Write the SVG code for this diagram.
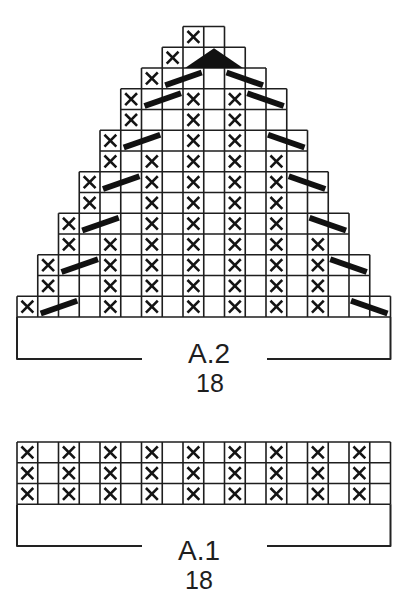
<svg xmlns="http://www.w3.org/2000/svg" xmlns:xlink="http://www.w3.org/1999/xlink" width="412" height="600" viewBox="0 0 412 600">
<style>
.grid{fill:none;stroke:#1e1e1e;stroke-width:1.6}
.xm{fill:none;stroke:#141414;stroke-width:2.6;stroke-linecap:square}
.sl{stroke:#111;stroke-width:6;stroke-linecap:butt}
.br{fill:none;stroke:#222;stroke-width:2;stroke-linejoin:round}
.lbl{font-family:"Liberation Sans",Arial,sans-serif;fill:#1e1e1e;text-anchor:middle}
</style>
<defs>
<path id="x" class="xm" d="M-5,-5L5,5M5,-5L-5,5"/>
</defs>
<rect width="412" height="600" fill="#fff"/>
<g id="chart-a2">
<path class="grid" d="M183,26.5H224.5M162.25,47.25H245.25M141.5,68H266M120.75,88.75H286.75M120.75,109.5H286.75M100,130.25H307.5M100,151H307.5M79.25,171.75H328.25M79.25,192.5H328.25M58.5,213.25H349M58.5,234H349M37.75,254.75H369.75M37.75,275.5H369.75M17,296.25H390.5M17,317H390.5M183,26.5V317M203.75,26.5V317M224.5,26.5V317M162.25,47.25V317M245.25,47.25V317M141.5,68V317M266,68V317M120.75,88.75V317M286.75,88.75V317M100,130.25V317M307.5,130.25V317M79.25,171.75V317M328.25,171.75V317M58.5,213.25V317M349,213.25V317M37.75,254.75V317M369.75,254.75V317M17,296.25V317M390.5,296.25V317"/>
<polygon points="185,68 243,68 214,48.3" fill="#111"/>
<g id="a2-x">
<use xlink:href="#x" x="193.375" y="36.875"/>
<use xlink:href="#x" x="172.625" y="57.625"/>
<use xlink:href="#x" x="151.875" y="78.375"/>
<use xlink:href="#x" x="131.125" y="99.125"/><use xlink:href="#x" x="193.375" y="99.125"/><use xlink:href="#x" x="234.875" y="99.125"/>
<use xlink:href="#x" x="131.125" y="119.875"/><use xlink:href="#x" x="193.375" y="119.875"/><use xlink:href="#x" x="234.875" y="119.875"/>
<use xlink:href="#x" x="110.375" y="140.625"/><use xlink:href="#x" x="193.375" y="140.625"/><use xlink:href="#x" x="234.875" y="140.625"/>
<use xlink:href="#x" x="110.375" y="161.375"/><use xlink:href="#x" x="151.875" y="161.375"/><use xlink:href="#x" x="193.375" y="161.375"/><use xlink:href="#x" x="234.875" y="161.375"/><use xlink:href="#x" x="276.375" y="161.375"/>
<use xlink:href="#x" x="89.625" y="182.125"/><use xlink:href="#x" x="151.875" y="182.125"/><use xlink:href="#x" x="193.375" y="182.125"/><use xlink:href="#x" x="234.875" y="182.125"/><use xlink:href="#x" x="276.375" y="182.125"/>
<use xlink:href="#x" x="89.625" y="202.875"/><use xlink:href="#x" x="151.875" y="202.875"/><use xlink:href="#x" x="193.375" y="202.875"/><use xlink:href="#x" x="234.875" y="202.875"/><use xlink:href="#x" x="276.375" y="202.875"/>
<use xlink:href="#x" x="68.875" y="223.625"/><use xlink:href="#x" x="151.875" y="223.625"/><use xlink:href="#x" x="193.375" y="223.625"/><use xlink:href="#x" x="234.875" y="223.625"/><use xlink:href="#x" x="276.375" y="223.625"/>
<use xlink:href="#x" x="68.875" y="244.375"/><use xlink:href="#x" x="110.375" y="244.375"/><use xlink:href="#x" x="151.875" y="244.375"/><use xlink:href="#x" x="193.375" y="244.375"/><use xlink:href="#x" x="234.875" y="244.375"/><use xlink:href="#x" x="276.375" y="244.375"/><use xlink:href="#x" x="317.875" y="244.375"/>
<use xlink:href="#x" x="48.125" y="265.125"/><use xlink:href="#x" x="110.375" y="265.125"/><use xlink:href="#x" x="151.875" y="265.125"/><use xlink:href="#x" x="193.375" y="265.125"/><use xlink:href="#x" x="234.875" y="265.125"/><use xlink:href="#x" x="276.375" y="265.125"/><use xlink:href="#x" x="317.875" y="265.125"/>
<use xlink:href="#x" x="48.125" y="285.875"/><use xlink:href="#x" x="110.375" y="285.875"/><use xlink:href="#x" x="151.875" y="285.875"/><use xlink:href="#x" x="193.375" y="285.875"/><use xlink:href="#x" x="234.875" y="285.875"/><use xlink:href="#x" x="276.375" y="285.875"/><use xlink:href="#x" x="317.875" y="285.875"/>
<use xlink:href="#x" x="27.375" y="306.625"/><use xlink:href="#x" x="110.375" y="306.625"/><use xlink:href="#x" x="151.875" y="306.625"/><use xlink:href="#x" x="193.375" y="306.625"/><use xlink:href="#x" x="234.875" y="306.625"/><use xlink:href="#x" x="276.375" y="306.625"/><use xlink:href="#x" x="317.875" y="306.625"/>
</g>
<g id="a2-slashes">
<line class="sl" x1="165.25" y1="85.25" x2="201.75" y2="72.5"/><line class="sl" x1="226.5" y1="72.5" x2="263" y2="85.25"/>
<line class="sl" x1="144.5" y1="106" x2="181" y2="93.25"/><line class="sl" x1="247.25" y1="93.25" x2="283.75" y2="106"/>
<line class="sl" x1="123.75" y1="147.5" x2="160.25" y2="134.75"/><line class="sl" x1="268" y1="134.75" x2="304.5" y2="147.5"/>
<line class="sl" x1="103" y1="189" x2="139.5" y2="176.25"/><line class="sl" x1="288.75" y1="176.25" x2="325.25" y2="189"/>
<line class="sl" x1="82.25" y1="230.5" x2="118.75" y2="217.75"/><line class="sl" x1="309.5" y1="217.75" x2="346" y2="230.5"/>
<line class="sl" x1="61.5" y1="272" x2="98" y2="259.25"/><line class="sl" x1="330.25" y1="259.25" x2="366.75" y2="272"/>
<line class="sl" x1="40.75" y1="313.5" x2="77.25" y2="300.75"/><line class="sl" x1="351" y1="300.75" x2="387.5" y2="313.5"/>
</g>
</g>
<g id="chart-a1">
<path class="grid" d="M17,442H390.5M17,462.75H390.5M17,483.5H390.5M17,504.25H390.5M17,442V504.25M37.75,442V504.25M58.5,442V504.25M79.25,442V504.25M100,442V504.25M120.75,442V504.25M141.5,442V504.25M162.25,442V504.25M183,442V504.25M203.75,442V504.25M224.5,442V504.25M245.25,442V504.25M266,442V504.25M286.75,442V504.25M307.5,442V504.25M328.25,442V504.25M349,442V504.25M369.75,442V504.25M390.5,442V504.25"/>
<g id="a1-x">
<use xlink:href="#x" x="27.375" y="452.375"/><use xlink:href="#x" x="68.875" y="452.375"/><use xlink:href="#x" x="110.375" y="452.375"/><use xlink:href="#x" x="151.875" y="452.375"/><use xlink:href="#x" x="193.375" y="452.375"/><use xlink:href="#x" x="234.875" y="452.375"/><use xlink:href="#x" x="276.375" y="452.375"/><use xlink:href="#x" x="317.875" y="452.375"/><use xlink:href="#x" x="359.375" y="452.375"/>
<use xlink:href="#x" x="27.375" y="473.125"/><use xlink:href="#x" x="68.875" y="473.125"/><use xlink:href="#x" x="110.375" y="473.125"/><use xlink:href="#x" x="151.875" y="473.125"/><use xlink:href="#x" x="193.375" y="473.125"/><use xlink:href="#x" x="234.875" y="473.125"/><use xlink:href="#x" x="276.375" y="473.125"/><use xlink:href="#x" x="317.875" y="473.125"/><use xlink:href="#x" x="359.375" y="473.125"/>
<use xlink:href="#x" x="27.375" y="493.875"/><use xlink:href="#x" x="68.875" y="493.875"/><use xlink:href="#x" x="110.375" y="493.875"/><use xlink:href="#x" x="151.875" y="493.875"/><use xlink:href="#x" x="193.375" y="493.875"/><use xlink:href="#x" x="234.875" y="493.875"/><use xlink:href="#x" x="276.375" y="493.875"/><use xlink:href="#x" x="317.875" y="493.875"/><use xlink:href="#x" x="359.375" y="493.875"/>
</g>
</g>
<g id="connectors">
<path class="br" d="M17,317V359H142M267,359H390.5V317"/>
<path class="br" d="M17,504.25V546H142M267,546H390.5V504.25"/>
</g>
<g id="label-a2">
<text class="lbl" x="209" y="362.5" font-size="28">A.2</text>
<text class="lbl" x="210" y="391.5" font-size="25">18</text>
</g>
<g id="label-a1">
<text class="lbl" x="199" y="559.5" font-size="28">A.1</text>
<text class="lbl" x="199" y="588.5" font-size="25">18</text>
</g>
</svg>
